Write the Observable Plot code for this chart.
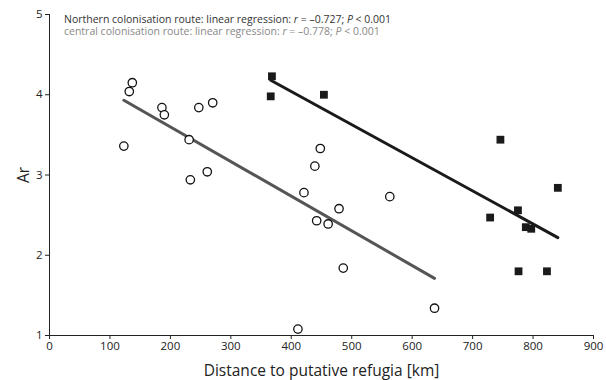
<!DOCTYPE html>
<html>
<head>
<meta charset="utf-8">
<script src="https://cdn.jsdelivr.net/npm/d3@7"></script>
<script src="https://cdn.jsdelivr.net/npm/@observablehq/plot@0.6"></script>
<style>
  html, body { margin: 0; padding: 0; background: #fff; }
  #chart { position: relative; width: 606px; height: 380px; }
</style>
</head>
<body>
<div id="chart"></div>
<script>
// Central colonisation route (open circles)
const centralDist = [123, 132, 137, 186, 190, 231, 233, 247, 261, 270, 421, 439, 442, 448, 461, 479, 486, 563, 411, 637];
const centralAr   = [3.36, 4.04, 4.15, 3.84, 3.75, 3.44, 2.94, 3.84, 3.04, 3.90, 2.78, 3.11, 2.43, 3.33, 2.39, 2.58, 1.84, 2.73, 1.08, 1.34];
// Northern colonisation route (filled squares)
const northDist = [366, 368, 454, 729, 746, 775, 776, 788, 797, 823, 841];
const northAr   = [3.98, 4.23, 4.00, 2.47, 3.44, 2.56, 1.80, 2.35, 2.33, 1.80, 2.84];

const xTicks = [0, 100, 200, 300, 400, 500, 600, 700, 800, 900];
const yTicks = [1, 2, 3, 4, 5];

const central = centralDist.map((d, i) => ({dist: d, ar: centralAr[i]}));
const north = northDist.map((d, i) => ({dist: d, ar: northAr[i]}));

const font = "'Open Sans', 'Noto Sans', sans-serif";

const plot = Plot.plot({
  width: 606,
  height: 380,
  marginLeft: 49,
  marginRight: 13,
  marginTop: 14,
  marginBottom: 45,
  style: {fontFamily: font, background: "#fff", color: "#222", overflow: "visible"},
  x: {domain: [0, 900]},
  y: {domain: [1, 5]},
  marks: [
    Plot.axisX({ticks: xTicks, tickFormat: d3.format("d"), tickSize: 4, tickPadding: 2, fontSize: 11.5, stroke: "#222", strokeWidth: 1,
      label: "Distance to putative refugia [km]", labelAnchor: "center", labelArrow: "none", labelOffset: 40}),
    Plot.axisY({ticks: yTicks, tickFormat: d3.format("d"), tickSize: 4, tickPadding: 3, fontSize: 11.5, stroke: "#222", strokeWidth: 1,
      label: "Ar", labelAnchor: "center", labelArrow: "none", labelOffset: 32}),
    Plot.ruleY([1], {stroke: "#222", strokeWidth: 1}),
    Plot.ruleX([0], {stroke: "#222", strokeWidth: 1}),
    Plot.linearRegressionY(central, {x: "dist", y: "ar", ci: 0, stroke: "#555", strokeWidth: 3}),
    Plot.linearRegressionY(north, {x: "dist", y: "ar", ci: 0, stroke: "#1a1a1a", strokeWidth: 3}),
    Plot.dot(central, {x: "dist", y: "ar", r: 4.2, fill: "#fff", stroke: "#111", strokeWidth: 1.3}),
    Plot.dot(north, {x: "dist", y: "ar", r: 4.4, symbol: "square", fill: "#1a1a1a", stroke: "none"})
  ]
});

document.getElementById("chart").appendChild(plot);

const svg = d3.select(plot);
svg.selectAll("g[aria-label='x-axis label'] text, g[aria-label='y-axis label'] text")
  .style("font-size", "15.5px").attr("fill", "#222");

function legendLine(y, color, rText, pText) {
  const t = svg.append("text")
    .attr("x", 64).attr("y", y)
    .attr("text-anchor", "start")
    .attr("fill", color)
    .style("font-family", font)
    .style("font-size", "10.5px");
  t.append("tspan").text(rText[0]);
  t.append("tspan").attr("font-style", "italic").text("r");
  t.append("tspan").text(rText[1]);
  t.append("tspan").attr("font-style", "italic").text("P");
  t.append("tspan").text(pText);
}
legendLine(22.5, "#333", ["Northern colonisation route: linear regression: ", " = \u20130.727; "], " < 0.001");
legendLine(34.5, "#888", ["central colonisation route: linear regression: ", " = \u20130.778; "], " < 0.001");
</script>
</body>
</html>
